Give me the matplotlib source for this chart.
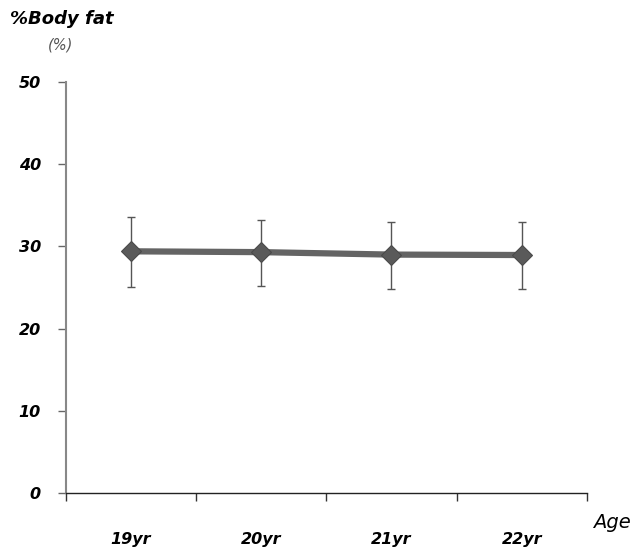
import matplotlib.pyplot as plt
import numpy as np

# data
ages = ['19yr', '20yr', '21yr', '22yr']
body_fat = [29.4, 29.3, 29.0, 28.95]
err_hi = [33.6, 33.2, 33.0, 33.0]
err_lo = [25.1, 25.2, 24.8, 24.8]
y_ticks = [0, 10, 20, 30, 40, 50]

x = np.arange(len(ages))
mean = np.array(body_fat)
yerr = [mean - np.array(err_lo), np.array(err_hi) - mean]

fig = plt.figure(figsize=(6.33, 5.5), dpi=100)
ax = fig.add_axes([0.104, 0.1036, 0.823, 0.7474])

ax.errorbar(x, mean, yerr=yerr, fmt='none', ecolor='#555555',
            elinewidth=1.0, capsize=3, capthick=1.0, zorder=2)
ax.plot(x, mean, color='#646464', lw=4.5, solid_capstyle='butt', zorder=3)
ax.plot(x, mean, ls='none', marker='D', ms=10.5, color='#5a5a5a',
        mec='#4a4a4a', mew=0.8, zorder=4)

ax.set_xlim(-0.5, len(ages) - 0.5)
ax.set_ylim(0, 50)

# category boundaries carry the tick marks, labels sit in the middle
ax.set_xticks(np.arange(-0.5, len(ages), 1.0))
ax.set_xticklabels([])
ax.set_xticks(x, minor=True)
ax.set_xticklabels(ages, minor=True, fontsize=11.5, fontweight='bold',
                   fontstyle='italic')
ax.tick_params(axis='x', which='major', direction='out', length=6,
               width=1, color='#333333')
ax.tick_params(axis='x', which='minor', length=0, pad=28)

ax.set_yticks(y_ticks)
ax.set_yticklabels([str(v) for v in y_ticks], fontsize=11.5,
                   fontweight='bold', fontstyle='italic')
ax.tick_params(axis='y', direction='out', length=6, width=1,
               color='#666666', pad=12)

for s in ['top', 'right']:
    ax.spines[s].set_visible(False)
ax.spines['left'].set_color('#888888')
ax.spines['left'].set_linewidth(1.5)
ax.spines['bottom'].set_color('#222222')
ax.spines['bottom'].set_linewidth(1.0)

fig.text(0.016, 0.965, '%Body fat', fontsize=13, fontweight='bold',
         fontstyle='italic', va='center', ha='left')
fig.text(0.096, 0.918, '(%)', fontsize=10.5, fontstyle='italic',
         color='#555555', va='center', ha='center')
fig.text(0.996, 0.05, 'Age', fontsize=14, fontstyle='italic',
         va='center', ha='right')

fig.savefig('out.png', dpi=100)
